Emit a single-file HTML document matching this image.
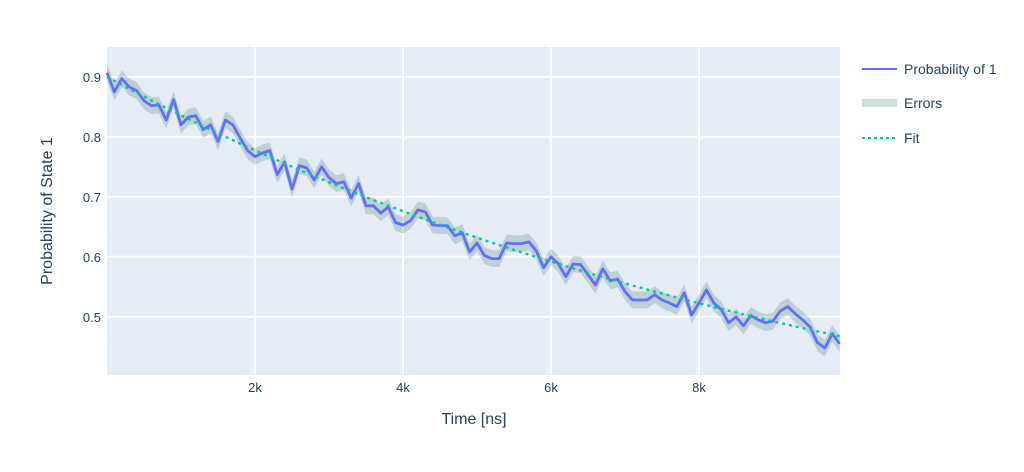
<!DOCTYPE html>
<html><head><meta charset="utf-8"><style>
body{margin:0;background:#fff;font-family:"Liberation Sans",sans-serif;}
svg text{font-family:"Liberation Sans",sans-serif;fill:#2a3f5f;}
</style></head><body>
<svg id="chart" width="1024" height="467" xmlns="http://www.w3.org/2000/svg">
<rect x="0" y="0" width="1024" height="467" fill="#fff"/>
<rect x="107" y="47" width="733" height="328" fill="#e5ecf6"/>
<g id="grid"></g>
<g id="marks"></g>
<g id="ticks"></g>
<text x="474" y="424" font-size="16" text-anchor="middle">Time [ns]</text>
<text transform="translate(52,211) rotate(-90)" font-size="16" text-anchor="middle">Probability of State 1</text>
<g>
<g><line x1="862" y1="69" x2="897" y2="69" stroke="#636efa" stroke-width="2"/><text x="904" y="74" font-size="14">Probability of 1</text></g>
<g><rect x="862" y="99" width="35" height="8" fill="rgba(47,111,95,0.22)"/><text x="904" y="108" font-size="14">Errors</text></g>
<g><line x1="862" y1="138" x2="897" y2="138" stroke="#00cc96" stroke-width="2" stroke-dasharray="3,3"/><text x="904" y="143" font-size="14">Fit</text></g>
</g>
</svg>
<script>
const times = Array.from({length:100},(_,i)=>i*100);
const probs = [.907,.875,.897,.883,.877,.860,.852,.853,.828,.862,
.820,.833,.835,.812,.820,.792,.828,.820,.798,.777,
.767,.773,.777,.737,.758,.713,.752,.748,.728,.750,
.732,.722,.725,.698,.722,.685,.685,.673,.683,.657,
.653,.660,.678,.675,.653,.652,.652,.635,.640,.608,
.623,.602,.597,.597,.623,.622,.622,.625,.610,.582,
.600,.588,.567,.588,.587,.570,.553,.580,.560,.563,
.542,.528,.528,.528,.537,.528,.523,.517,.540,.503,
.523,.545,.523,.512,.490,.500,.485,.502,.495,.490,
.493,.510,.517,.505,.495,.483,.457,.448,.472,.455];
const errors = probs.map(()=>0.014);
const fitParams = [0.711, 10570, 0.189];
const xTicks = [2000,4000,6000,8000];
const xTickLabels = ["2k","4k","6k","8k"];
const yTicks = [0.5,0.6,0.7,0.8,0.9];
const yTickLabels = ["0.5","0.6","0.7","0.8","0.9"];

const NS="http://www.w3.org/2000/svg";
const X0=107,X1=840,Y0=375,Y1=47, xmin=0,xmax=9905, ymin=0.403,ymax=0.9497;
const sx=v=>X0+(v-xmin)/(xmax-xmin)*(X1-X0);
const sy=v=>Y0-(v-ymin)/(ymax-ymin)*(Y0-Y1);
function mk(tag,attrs,parent){const e=document.createElementNS(NS,tag);for(const k in attrs)e.setAttribute(k,attrs[k]);parent.appendChild(e);return e;}
const grid=document.getElementById('grid'),marks=document.getElementById('marks'),ticks=document.getElementById('ticks');
xTicks.forEach((t,i)=>{
  const l=mk('line',{x1:sx(t),x2:sx(t),y1:Y1,y2:Y0,stroke:'#fff','stroke-width':2},grid);
  
  
  const tx=mk('text',{x:sx(t),y:392,'font-size':13,'text-anchor':'middle'},ticks);
  tx.textContent=xTickLabels[i];
  
  
});
yTicks.forEach((t,i)=>{
  const l=mk('line',{x1:X0,x2:X1,y1:sy(t),y2:sy(t),stroke:'#fff','stroke-width':2},grid);
  
  
  const tx=mk('text',{x:101,y:sy(t)+5,'font-size':13,'text-anchor':'end'},ticks);
  tx.textContent=yTickLabels[i];
  
  
});
let up=times.map((t,i)=>sx(t)+','+sy(probs[i]+errors[i]));
let dn=times.map((t,i)=>sx(t)+','+sy(probs[i]-errors[i])).reverse();
const band=mk('polygon',{points:up.concat(dn).join(' '),fill:'rgba(47,111,95,0.22)'},marks);


const line=mk('polyline',{points:times.map((t,i)=>sx(t)+','+sy(probs[i])).join(' '),fill:'none',stroke:'#636efa','stroke-width':2.8,'stroke-linejoin':'round'},marks);


const fitPts=times.map(t=>sx(t)+','+sy(fitParams[0]*Math.exp(-t/fitParams[1])+fitParams[2]));
const fit=mk('polyline',{points:fitPts.join(' '),fill:'none',stroke:'#00cc96','stroke-width':2.4,'stroke-dasharray':'3,4'},marks);


</script>
</body></html>
